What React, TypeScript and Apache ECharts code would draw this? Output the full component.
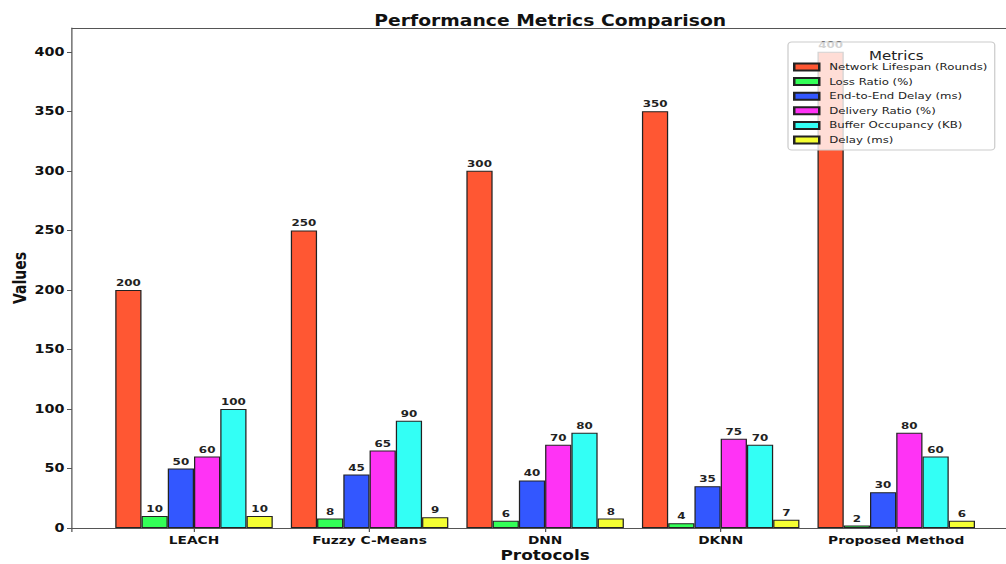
import React, { useEffect, useRef } from "react";
import * as echarts from "echarts";

const categories = ["LEACH", "Fuzzy C-Means", "DNN", "DKNN", "Proposed Method"];
const networkLifespan = [200, 250, 300, 350, 400];
const lossRatio = [10, 8, 6, 4, 2];
const endToEndDelay = [50, 45, 40, 35, 30];
const deliveryRatio = [60, 65, 70, 75, 80];
const bufferOccupancy = [100, 90, 80, 70, 60];
const delay = [10, 9, 8, 7, 6];

const seriesNames = [
  "Network Lifespan (Rounds)",
  "Loss Ratio (%)",
  "End-to-End Delay (ms)",
  "Delivery Ratio (%)",
  "Buffer Occupancy (KB)",
  "Delay (ms)",
];
const seriesValues = [networkLifespan, lossRatio, endToEndDelay, deliveryRatio, bufferOccupancy, delay];
const colors = ["#FF5733", "#33FF57", "#3357FF", "#FF33F5", "#33FFF5", "#F5FF33"];

const FONT = "DejaVu Sans";
const STRETCH = 1.25; // the reference image is horizontally stretched
const W = 1006 / STRETCH;

export default function App() {
  const ref = useRef<HTMLDivElement>(null);
  useEffect(() => {
    if (!ref.current) return;
    const chart = echarts.init(ref.current, null, { renderer: "svg" });
    const series = seriesValues.map((vals, k) => ({
      name: seriesNames[k],
      type: "bar",
      data: vals.map((v, i) => [i, v]),
      barWidth: 21,
      barGap: "0%",
      itemStyle: { color: colors[k], borderColor: "#222", borderWidth: 1 },
      label: {
        show: true,
        position: "top",
        distance: 2,
        fontFamily: FONT,
        fontWeight: "bold",
        fontSize: 9.5,
        color: "#222",
      },
    }));
    chart.setOption({
      animation: false,
      textStyle: { fontFamily: FONT },
      title: [
        {
          text: "Performance Metrics Comparison",
          left: 435.2,
          top: 8,
          textAlign: "center",
          textStyle: { fontFamily: FONT, fontWeight: "bold", fontSize: 15, color: "#111" },
        },
        {
          text: "Metrics",
          left: 712,
          top: 45,
          textAlign: "center",
          z: 10,
          textStyle: { fontFamily: FONT, fontWeight: "normal", fontSize: 12, color: "#222" },
        },
      ],
      legend: {
        orient: "vertical",
        left: 630.4,
        top: 42,
        width: 163,
        padding: [19, 6, 4, 4],
        backgroundColor: "rgba(255,255,255,0.8)",
        borderColor: "#ccc",
        borderWidth: 1,
        borderRadius: 3,
        itemWidth: 20,
        itemHeight: 7,
        itemGap: 2.6,
        icon: "rect",
        textStyle: { fontFamily: FONT, fontSize: 9.4, color: "#222", lineHeight: 12, padding: [0, 0, 0, 3] },
        data: seriesNames,
      },
      grid: { left: 57.6, top: 28, width: 757, height: 500, containLabel: false, outerBoundsMode: "none" },
      xAxis: [
        {
          type: "value",
          min: -0.695,
          max: 4.695,
          name: "Protocols",
          nameLocation: "middle",
          nameGap: 21,
          nameMoveOverlap: false,
          nameTextStyle: { fontFamily: FONT, fontWeight: "bold", fontSize: 13.5, color: "#111", lineHeight: 14 },
          axisLine: { show: true, onZero: false, lineStyle: { color: "#555", width: 1 } },
          axisTick: { show: true, length: 4, lineStyle: { color: "#555" } },
          splitLine: { show: false },
          axisLabel: {
            fontFamily: FONT,
            fontWeight: "bold",
            fontSize: 11,
            color: "#111",
            margin: 7,
            formatter: (v: number) => {
              const r = Math.round(v);
              return Math.abs(v - r) < 1e-6 && r >= 0 && r < categories.length ? categories[r] : "";
            },
          },
        },
        {
          type: "value",
          position: "top",
          min: -0.695,
          max: 4.695,
          axisLine: { show: true, onZero: false, lineStyle: { color: "#555", width: 1 } },
          axisTick: { show: false },
          axisLabel: { show: false },
          splitLine: { show: false },
        },
      ],
      yAxis: {
        type: "value",
        min: 0,
        max: 420,
        interval: 50,
        name: "Values",
        nameLocation: "middle",
        nameGap: 35,
        nameMoveOverlap: false,
        nameTextStyle: { fontFamily: FONT, fontWeight: "bold", fontSize: 14, color: "#111" },
        axisLine: { show: true, onZero: false, lineStyle: { color: "#555", width: 1 } },
        axisTick: { show: true, length: 4, lineStyle: { color: "#555" } },
        splitLine: { show: false },
        axisLabel: {
          fontFamily: FONT,
          fontWeight: "bold",
          fontSize: 11.5,
          color: "#111",
          margin: 6,
          showMaxLabel: false,
          formatter: (v: number) => (v % 50 === 0 ? String(v) : ""),
        },
      },
      series,
    });
    return () => chart.dispose();
  }, []);
  return (
    <div
      ref={ref}
      style={{
        position: "fixed",
        left: 0,
        top: 0,
        width: W,
        height: 564,
        background: "#fff",
        transform: `scaleX(${STRETCH})`,
        transformOrigin: "0 0",
      }}
    />
  );
}
